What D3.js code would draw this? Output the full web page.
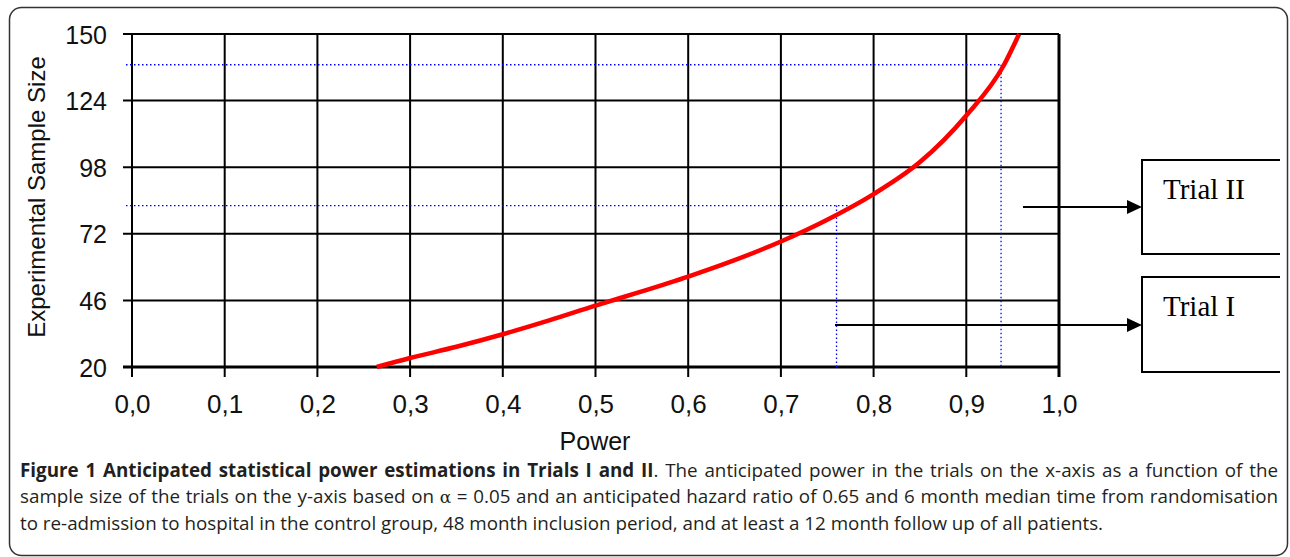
<!DOCTYPE html>
<html>
<head>
<meta charset="utf-8">
<script src="https://cdn.jsdelivr.net/npm/d3@7"></script>
<style>
  html, body { margin: 0; padding: 0; background: #fff; }
  #wrap { position: relative; width: 1290px; height: 557px; overflow: hidden; }
  svg { position: absolute; left: 0; top: 0; }
  #caption {
    position: absolute; left: 20px; top: 457px; width: 1258px;
    font-family: "Open Sans", sans-serif; font-size: 18.8px; line-height: 26px;
    color: #231f20; white-space: nowrap;
  }
  #caption div { text-align: justify; text-align-last: justify; }
  #caption div.last { text-align: left; text-align-last: left; }
  #caption b { font-weight: 700; }
  .alpha { font-family: "DejaVu Serif", serif; font-size: 17px; }
</style>
</head>
<body>
<div id="wrap">
  <svg id="chart" width="1290" height="557"></svg>
  <div id="caption">
    <div><b>Figure 1 Anticipated statistical power estimations in Trials I and II</b>. The anticipated power in the trials on the x-axis as a function of the</div>
    <div>sample size of the trials on the y-axis based on <span class="alpha">α</span> = 0.05 and an anticipated hazard ratio of 0.65 and 6 month median time from randomisation</div>
    <div class="last">to re-admission to hospital in the control group, 48 month inclusion period, and at least a 12 month follow up of all patients.</div>
  </div>
</div>
<script>
// ---- data ----
const xTicks = [0, 0.1, 0.2, 0.3, 0.4, 0.5, 0.6, 0.7, 0.8, 0.9, 1.0];
const yTicks = [20, 46, 72, 98, 124, 150];
const power = [0.264, 0.30, 0.35, 0.40, 0.45, 0.50, 0.55, 0.60, 0.65, 0.70, 0.75, 0.80, 0.85, 0.90, 0.94, 0.957];
const sampleSize = [20, 23.5, 27.9, 32.8, 38.2, 44, 49.5, 55.3, 61.7, 69, 77.5, 87.5, 100, 118.2, 137.5, 150];
const trialLabels = ["Trial II", "Trial I"];
const trialPower = [0.9375, 0.76];
const trialSize = [138, 83];
const trialLineEnd = [0.9375, 0.782];
const xLabel = "Power";
const yLabel = "Experimental Sample Size";

// ---- drawing ----
const svg = d3.select("#chart");
const x = d3.scaleLinear().domain([0, 1]).range([132, 1059]);
const y = d3.scaleLinear().domain([20, 150]).range([367, 34]);

// outer rounded frame
svg.append("rect")
  .attr("x", 9.5).attr("y", 7.5).attr("width", 1278).attr("height", 548)
  .attr("rx", 12).attr("ry", 12)
  .attr("fill", "none").attr("stroke", "#333").attr("stroke-width", 1.5);

// grid
const grid = svg.append("g");
grid.selectAll("line.h").data(yTicks).join("line")
  .attr("x1", x(0) - 9).attr("x2", x(1))
  .attr("y1", d => y(d)).attr("y2", d => y(d))
  .attr("stroke", "#000").attr("stroke-width", d => d === 20 ? 3 : 2);
grid.selectAll("line.v").data(xTicks).join("line")
  .attr("x1", d => x(d)).attr("x2", d => x(d))
  .attr("y1", y(150)).attr("y2", y(20) + 10)
  .attr("stroke", "#000").attr("stroke-width", d => d === 1 ? 3 : 2);

// axes (labels only)
const xAxis = d3.axisBottom(x).tickValues(xTicks).tickSize(0).tickPadding(0)
  .tickFormat(d => d3.format(".1f")(d).replace(".", ","));
const gx = svg.append("g").attr("transform", `translate(0,${y(20)})`).call(xAxis);
gx.select(".domain").remove();
gx.selectAll("text").attr("dy", null).attr("y", 46)
  .attr("font-family", "Liberation Sans, Arial, sans-serif").attr("font-size", 26).attr("fill", "#111");

const yAxis = d3.axisLeft(y).tickValues(yTicks).tickSize(0).tickPadding(0);
const gy = svg.append("g").attr("transform", `translate(${x(0)},0)`).call(yAxis);
gy.select(".domain").remove();
gy.selectAll("text").attr("x", -25).attr("dy", "0.36em")
  .attr("font-family", "Liberation Sans, Arial, sans-serif").attr("font-size", 25).attr("fill", "#111");

// axis titles
svg.append("text").attr("x", 595).attr("y", 450).attr("text-anchor", "middle")
  .attr("font-family", "Liberation Sans, Arial, sans-serif").attr("font-size", 25).attr("fill", "#111")
  .text(xLabel);
svg.append("text").attr("transform", "translate(45,197) rotate(-90)").attr("text-anchor", "middle")
  .attr("font-family", "Liberation Sans, Arial, sans-serif").attr("font-size", 24).attr("fill", "#111")
  .text(yLabel);

// blue dotted reference lines
const ref = svg.append("g").attr("stroke", "#0000ff").attr("stroke-width", 1.3).attr("stroke-dasharray", "1.5,2.5");
trialPower.forEach((p, i) => {
  ref.append("line").attr("x1", x(0) - 6).attr("x2", x(trialLineEnd[i]))
    .attr("y1", y(trialSize[i])).attr("y2", y(trialSize[i]));
  ref.append("line").attr("x1", x(p)).attr("x2", x(p))
    .attr("y1", y(trialSize[i])).attr("y2", y(20));
});

// red curve
const pts = power.map((p, i) => [p, sampleSize[i]]);
svg.append("path").datum(pts)
  .attr("d", d3.line().x(d => x(d[0])).y(d => y(d[1])).curve(d3.curveMonotoneX))
  .attr("fill", "none").attr("stroke", "#ff0000").attr("stroke-width", 4.5)
  .attr("stroke-linejoin", "round");

// annotation boxes and arrows
const boxTop = [160, 277], boxBottom = [254, 372];
const arrowY = [207, 325], arrowX0 = [1023, 835];
const boxL = 1142, boxR = 1280;
trialLabels.forEach((lab, i) => {
  svg.append("path")
    .attr("d", `M${boxR},${boxTop[i]}H${boxL}V${boxBottom[i]}H${boxR}`)
    .attr("fill", "none").attr("stroke", "#000").attr("stroke-width", 2);
  svg.append("text").attr("x", 1163).attr("y", boxTop[i] + 39)
    .attr("font-family", "Liberation Serif, Times New Roman, serif").attr("font-size", 29).attr("fill", "#000")
    .text(lab);
  svg.append("line").attr("x1", arrowX0[i]).attr("x2", boxL - 14)
    .attr("y1", arrowY[i]).attr("y2", arrowY[i]).attr("stroke", "#000").attr("stroke-width", 2);
  svg.append("path")
    .attr("d", `M${boxL},${arrowY[i]}L${boxL - 15},${arrowY[i] - 7}L${boxL - 15},${arrowY[i] + 7}Z`)
    .attr("fill", "#000");
});
</script>
</body>
</html>
